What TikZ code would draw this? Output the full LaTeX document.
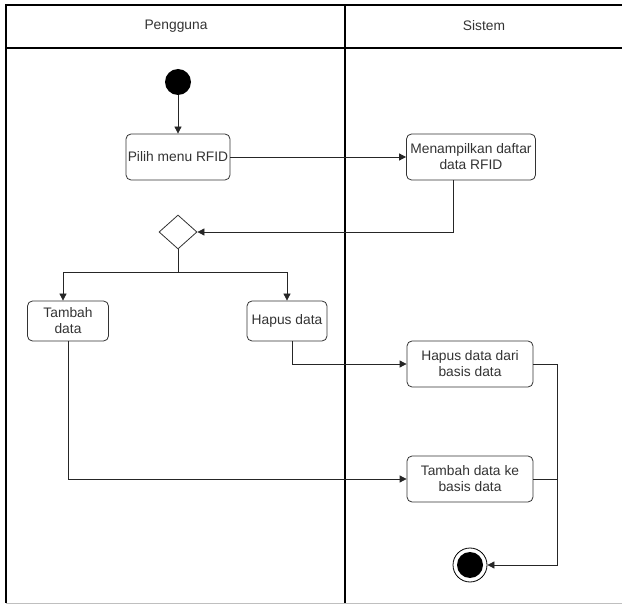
\documentclass[tikz,border=0pt]{standalone}
\usepackage{fontspec}
\setmainfont{Liberation Sans}
\usetikzlibrary{shapes.geometric,arrows.meta}
\tikzset{
  act/.style={draw=black!80, rounded corners=5pt, align=center, minimum height=46pt,
    inner sep=1pt, font=\fontsize{13.8}{16}\selectfont, text=black!80},
  lane/.style={line width=1.6pt},
  flow/.style={draw=black!85, -{Triangle[length=7pt,width=7pt]}},
}
\begin{document}
\begin{tikzpicture}[x=1pt,y=-1pt, line width=0.8pt]
  \useasboundingbox (0,0) rectangle (622,604);
  % swimlanes
  \draw[lane] (622,5) -- (6,5) -- (6,603);
  \draw[lane] (6,48) -- (622,48);
  \draw[lane] (345,5) -- (345,603);
  \draw[gray!50] (6,603) -- (622,603);
  \node[font=\fontsize{13.8}{16}\selectfont, text=black!80] (pengguna) at (176,26) {Pengguna};
  \node[font=\fontsize{13.8}{16}\selectfont, text=black!80] (sistem) at (484,26) {Sistem};
  % nodes
  \node[circle, fill=black, minimum size=26pt, inner sep=0] (start) at (178,82) {};
  \node[act, minimum width=104pt] (pilih) at (178,157) {Pilih menu RFID};
  \node[act, minimum width=129pt] (tampil) at (471,157) {Menampilkan daftar\\data RFID};
  \node[diamond, draw=black!80, minimum width=38pt, minimum height=34pt, inner sep=0] (dec) at (178,232) {};
  \node[act, minimum width=81pt, minimum height=40pt] (tambah) at (68,321) {Tambah\\data};
  \node[act, minimum width=80pt, minimum height=40pt] (hapus) at (287,321) {Hapus data};
  \node[act, minimum width=126pt] (hapusdb) at (470,364) {Hapus data dari\\basis data};
  \node[act, minimum width=126pt] (tambahdb) at (470,479) {Tambah data ke\\basis data};
  \node[circle, draw=black, minimum size=34pt, inner sep=0] (end) at (470,565) {};
  \node[circle, fill=black, minimum size=26pt, inner sep=0] (endin) at (end) {};
  \coordinate (split) at (178,272);
  \coordinate (merge) at (557,565);
  % edges
  \begin{scope}[flow]
    \draw (start) -- (pilih);
    \draw (pilih) -- (tampil);
    \draw ([xshift=-18pt]tampil.south) |- (dec.east);
    \draw[-] (dec.south) -- (split);
    \draw (split) -| ([xshift=-5pt]tambah.north);
    \draw (split) -| (hapus.north);
    \draw ([xshift=5pt]hapus.south) |- (hapusdb.west);
    \draw (tambah.south) |- (tambahdb.west);
    \draw (hapusdb.east) -| (merge) -- (end);
    \draw[-] (tambahdb.east) -- (tambahdb.east -| merge);
  \end{scope}
\end{tikzpicture}
\end{document}
